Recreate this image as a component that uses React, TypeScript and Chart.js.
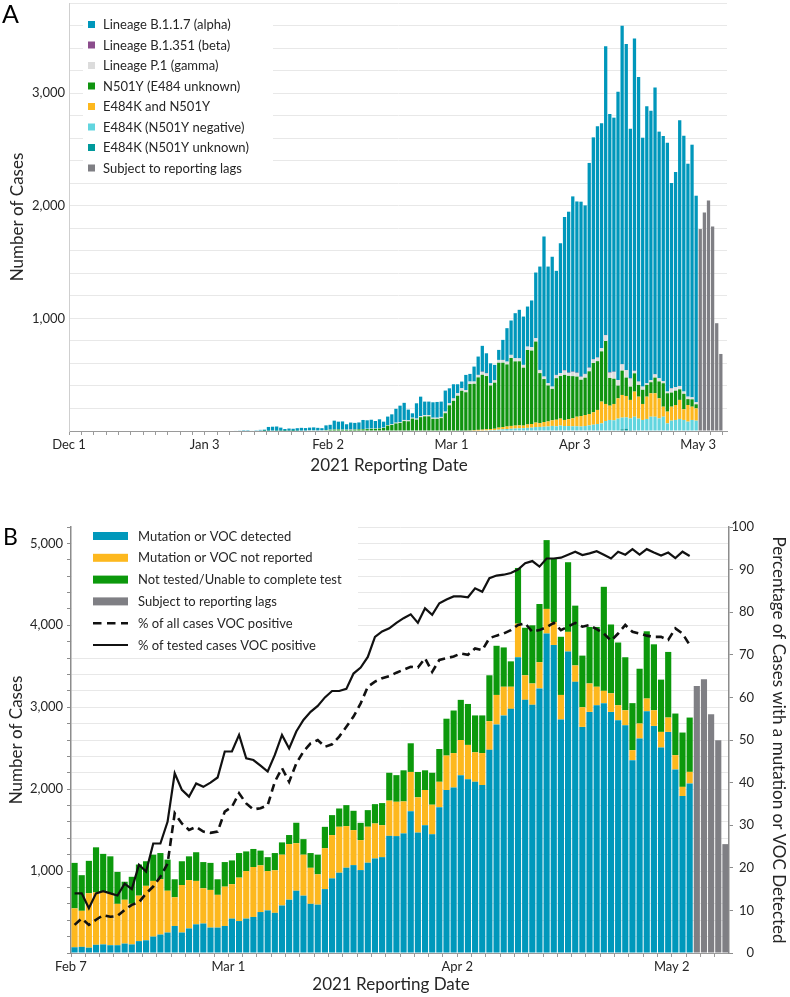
import React, { useEffect, useRef } from 'react';
import { Chart, registerables } from 'chart.js';

Chart.register(...registerables);

const FONT = 'Lato, "Open Sans", "Noto Sans", sans-serif';
const INK = '#262626';
const GRID = '#e8e8e8';
const AXIS = '#9a9a9a';

const MONTHS = ['Jan', 'Feb', 'Mar', 'Apr', 'May', 'Jun', 'Jul', 'Aug', 'Sep', 'Oct', 'Nov', 'Dec'];
function dayLabels(y: number, m: number, d: number, count: number): string[] {
  const out: string[] = [];
  for (let i = 0; i < count; i++) {
    const dt = new Date(Date.UTC(y, m, d + i));
    out.push(`${MONTHS[dt.getUTCMonth()]} ${dt.getUTCDate()}`);
  }
  return out;
}

// ---------------- Panel A ----------------
const A_CATEGORIES = dayLabels(2020, 11, 1, 160); // Dec 1 .. May 9
const A_TICK_TEXT = ['Dec 1', 'Jan 3', 'Feb 2', 'Mar 1', 'Apr 3', 'May 3'];
const A_TICK_AT = ['Dec 1', 'Jan 3', 'Feb 2', 'Mar 4', 'Apr 3', 'May 3'];
const A_DATA_START = 'Jan 10';
const A_LAGS_START = 'May 3';
const A_X_TITLE = '2021 Reporting Date';
const A_Y_TITLE = 'Number of Cases';

const A_ALPHA = [
  4, 3, 8, 8, 5, 7, 10,
  10, 33, 34, 37, 27, 16, 19, 18, 22, 24,
  22, 24, 26, 23, 19, 42, 43, 78, 68, 72,
  48, 60, 58, 60, 80, 75, 78, 67, 79, 53,
  75, 88, 123, 145, 152, 95, 39, 136, 172, 119,
  119, 137, 140, 136, 187, 133, 125, 80, 60, 134,
  68, 133, 163, 229, 177, 177, 134, 89, 178, 297,
  305, 400, 430, 429, 356, 415, 583, 918, 1244, 1036,
  1153, 924, 1155, 1358, 1429, 1556, 1520, 1553, 1496, 1817,
  1970, 2053, 1997, 2563, 2294, 2255, 2560, 3004, 2895, 2216,
  2949, 2705, 2210, 2459, 2391, 2545, 2190, 2175, 2210, 1823,
  1911, 2358, 2272, 2068, 2243, 1834,
];
const A_BETA = [
  0, 0, 0, 0, 0, 0, 0, 0, 0, 0,
  0, 0, 0, 0, 0, 0, 0, 0, 0, 0,
  0, 0, 0, 0, 0, 0, 0, 0, 3, 0,
  0, 0, 0, 0, 0, 0, 0, 0, 0, 0,
  0, 0, 0, 0, 0, 0, 0, 0, 0, 0,
  0, 0, 0, 2, 0, 0, 0, 0, 0, 0,
  3, 3, 0, 4, 0, 0, 0, 0, 0, 2,
  0, 0, 0, 0, 3, 0, 0, 0, 4, 0,
  6, 4, 5, 5, 3, 4, 3, 3, 2, 0,
  4, 5, 3, 0, 2, 3, 4, 3, 2, 0,
  0, 2, 2, 0, 0, 0, 3, 0, 0, 0,
  0, 0, 0,
];
const A_GAMMA = [
  0, 0, 0, 0, 0, 0, 0, 0, 0, 0, 0, 0, 0, 0, 0, 0, 0, 0,
  1, 1, 1, 1, 1, 2, 2, 2, 2, 2,
  2, 2, 2, 3, 3, 3, 3, 3, 3, 5,
  6, 7, 8, 10, 9, 8, 9, 10, 12, 12,
  10, 10, 11, 14, 18, 20, 22, 22, 20, 22,
  20, 22, 25, 22, 20, 20, 25, 25, 25, 28,
  28, 25, 25, 30, 30, 30, 25, 22, 20, 20,
  25, 25, 38, 25, 35, 30, 25, 30, 30, 30,
  30, 28, 50, 45, 60, 50, 55, 65, 70, 20,
  28, 28, 15, 18, 28, 28, 20, 15, 35, 30,
  30, 20, 22, 18, 18,
];
const A_N501Y = [
  0, 0, 0, 0, 0, 0, 0,
  2, 3, 4, 3, 3, 2, 3, 2, 3, 4,
  4, 5, 5, 4, 5, 7, 10, 12, 13, 11,
  10, 10, 12, 14, 15, 17, 19, 19, 22, 27,
  48, 54, 67, 72, 88, 86, 110, 101, 123, 130,
  130, 108, 108, 114, 158, 228, 268, 313, 354, 340,
  412, 411, 466, 487, 473, 386, 409, 576, 571, 551,
  603, 570, 569, 514, 661, 652, 719, 444, 381, 319,
  279, 369, 378, 400, 384, 374, 356, 322, 331, 379,
  438, 433, 446, 559, 246, 224, 113, 216, 163, 118,
  162, 104, 126, 104, 98, 139, 150, 208, 163, 125,
  127, 94, 137, 52, 65, 36,
];
const A_E484K_N501Y = [
  0, 0, 0, 0, 0, 0, 0, 0, 0, 0, 0, 0, 0, 0, 0, 0, 0, 0, 0, 0,
  0, 0, 0, 0, 0, 0, 0, 0, 0, 0, 0, 0, 0, 0, 0, 0, 0, 0, 0, 0,
  0, 0, 0, 0, 0, 0, 0, 0, 0, 0, 0, 0, 0, 0, 0,
  2, 2, 3, 5, 6, 7, 9, 10, 12, 18,
  20, 22, 25, 26, 26, 23, 30, 32, 40, 34,
  42, 45, 50, 58, 62, 54, 61, 71, 85, 93,
  98, 101, 110, 125, 193, 151, 127, 145, 180, 201,
  190, 164, 223, 195, 142, 198, 208, 208, 178, 89,
  104, 124, 133, 169, 95, 148, 118, 109,
];
const A_E484K_NEG = [
  0, 0, 0, 0, 0, 0, 0, 0, 0, 0, 0, 0, 0, 0, 0, 0, 0, 0, 0, 0,
  0, 0, 0, 0, 0, 0, 0, 0, 0, 0, 0, 0, 0, 0, 0, 0, 0, 0, 0, 0,
  0, 0, 0, 0, 0, 0, 0, 0, 0, 0, 0, 0, 0, 0, 0,
  1, 2, 2, 3, 4, 5, 6, 8, 8, 12,
  15, 18, 20, 22, 24, 25, 28, 30, 35, 36,
  38, 40, 45, 42, 48, 44, 44, 42, 42, 40,
  44, 50, 56, 62, 68, 89, 98, 95, 110, 104,
  101, 104, 122, 110, 98, 107, 127, 127, 112, 127,
  68, 92, 98, 107, 98, 83, 98, 92,
];
const A_E484K_UNK = [
  0, 0, 0, 0, 0, 0, 0, 0, 0, 0, 0, 0, 0, 0, 0, 0, 0, 0, 0, 0,
  0, 0, 0, 0, 0, 0, 0, 0, 0, 0, 0, 0, 0, 0, 0, 0, 0, 0, 0, 0,
  0, 0, 0, 0, 0, 0, 0, 0, 0, 0, 0, 0, 0, 0, 0, 0, 0, 0, 0, 0,
  0, 0, 0, 0, 0, 0, 0, 0, 0, 0, 0, 0, 0, 0, 0, 0, 0, 0, 0, 0,
  0, 0, 0, 0, 0, 0, 0, 0, 0, 0, 0, 0, 0, 0,
  15, 20, 8, 5,
  0, 0, 0, 0, 0, 0, 0, 0, 0, 0, 0, 0, 0, 0, 0,
];
const A_LAGS = [1793, 1941, 2047, 1816, 957, 684];

// ---------------- Panel B ----------------
const B_CATEGORIES = dayLabels(2021, 1, 7, 92); // Feb 7 .. May 9
const B_TICK_TEXT = ['Feb 7', 'Mar 1', 'Apr 2', 'May 2'];
const B_TICK_AT = ['Feb 7', 'Mar 1', 'Apr 2', 'May 2'];
const B_DATA_START = 'Feb 7';
const B_LAGS_START = 'May 5';
const B_X_TITLE = '2021 Reporting Date';
const B_Y_TITLE = 'Number of Cases';
const B_Y1_TITLE = 'Percentage of Cases with a mutation or VOC Detected';

const B_DETECTED = [
  70, 75, 65, 100, 105, 95, 95, 115, 105, 145,
  155, 200, 225, 250, 330, 250, 300, 350, 360, 310,
  310, 330, 420, 390, 420, 440, 500, 520, 490, 580,
  650, 760, 700, 600, 590, 780, 911, 980, 1041, 1073,
  1012, 1102, 1154, 1170, 1430, 1427, 1460, 1730, 1470, 1560,
  1450, 1780, 1990, 2020, 2170, 2120, 2090, 2050, 2480, 2790,
  2900, 2980, 3610, 3090, 3030, 3230, 3900, 3760, 2850, 3680,
  3310, 2760, 2943, 3024, 3050, 2943, 2841, 2780, 2354, 2618,
  2951, 2772, 2508, 2699, 2240, 1915, 2069,
];
const B_NOT_REPORTED = [
  475, 440, 665, 640, 645, 635, 505, 535, 495, 555,
  665, 680, 675, 510, 350, 580, 590, 530, 430, 460,
  400, 480, 420, 530, 580, 610, 570, 480, 520, 620,
  680, 580, 500, 440, 370, 500, 528, 561, 508, 427,
  366, 439, 427, 390, 430, 419, 390, 480, 430, 430,
  360, 310, 420, 420, 430, 420, 360, 390, 350, 360,
  350, 270, 410, 300, 260, 320, 300, 280, 300, 240,
  200, 240, 347, 226, 150, 227, 183, 183, 122, 183,
  155, 191, 191, 175, 175, 113, 142,
];
const B_NOT_TESTED = [
  555, 435, 395, 550, 460, 450, 390, 220, 330, 380,
  300, 320, 320, 380, 220, 290, 290, 350, 320, 330,
  190, 300, 290, 300, 240, 220, 180, 170, 210, 150,
  110, 250, 190, 180, 240, 260, 244, 223, 256, 236,
  211, 203, 236, 270, 340, 325, 380, 350, 310, 240,
  390, 400, 450, 520, 490, 500, 450, 460, 560, 600,
  480, 310, 680, 580, 710, 710, 840, 770, 710, 850,
  730, 630, 690, 730, 1270, 840, 766, 647, 574, 669,
  821, 805, 638, 801, 508, 663, 663,
];
const B_LAGS = [3260, 3341, 2915, 2598, 1329];
const B_PCT_ALL = [
  6.6, 8.1, 6.6, 7.8, 8.9, 8.5, 8.7, 10.1, 11.3, 11.9,
  14, 15.6, 17.9, 21, 32.8, 30.4, 28.9, 29.6, 28.5, 28.2,
  28.5, 33.2, 34.3, 37.5, 35.1, 33.7, 34, 34.7, 40.2, 43.4,
  40.2, 44.5, 47.3, 49.2, 50, 48.4, 49, 50.8, 53.1, 55.5,
  58.6, 62.5, 63.7, 64.5, 65, 65.8, 66.5, 67.2, 67, 69.2,
  66, 68.8, 69.2, 69.6, 70.3, 70, 71.5, 71.1, 73.9, 74.5,
  75, 75.8, 77, 77.4, 75.4, 75.8, 76.5, 77.5, 75.8, 76.6,
  77.5, 76.6, 77, 76, 75, 73.3, 75, 77, 75.4, 75,
  74.5, 74.2, 74.2, 73.5, 76.2, 75, 72.3,
];
const B_PCT_TESTED = [
  14, 14, 10.5, 14, 14.5, 14, 13.5, 16.3, 15, 20.7,
  19.1, 25.7, 25.7, 30.8, 42.2, 38.3, 36.7, 39.8, 39, 40,
  41.2, 47.3, 47.3, 51.2, 45.7, 45.3, 44, 42.6, 46.5, 51.2,
  48, 52, 54.7, 56.6, 58, 60, 61.5, 61.5, 62, 65.6,
  67, 69.5, 74.2, 75.5, 76.2, 77.5, 78.6, 79.5, 77.5, 80.9,
  79.4, 82.1, 83, 83.7, 83.7, 83.5, 85.6, 84.8, 88, 88.6,
  88.8, 89.2, 90, 91.5, 92, 90.7, 92.6, 92.6, 92.8, 93.5,
  94.2, 93.4, 93.8, 94.3, 93.5, 92.6, 94.2, 93.5, 94.8, 93.5,
  94.8, 94, 93.3, 94, 92.7, 94.2, 93.2,
];

// ---------------- helpers ----------------
function place(labels: string[], start: string, values: number[]): (number | null)[] {
  const i0 = labels.indexOf(start);
  return labels.map((_, i) => (i >= i0 && i < i0 + values.length ? values[i - i0] : null));
}
function tickText(labels: string[], at: string[], text: string[]) {
  return (_v: any, idx: number) => {
    const j = at.indexOf(labels[idx]);
    return j >= 0 ? text[j] : '';
  };
}
const thousands = (v: any) => (v > 0 && v % 1000 === 0 ? Number(v).toLocaleString('en-US') : '');

function drawText(ctx: any, text: string, x: number, y: number, size: number, align = 'center') {
  ctx.save();
  ctx.font = `${size}px ${FONT}`;
  ctx.fillStyle = INK;
  ctx.textAlign = align;
  ctx.textBaseline = 'middle';
  ctx.fillText(text, x, y);
  ctx.restore();
}

// ---------------- configs ----------------
function configA(): any {
  const L = A_CATEGORIES;
  const bar = (label: string, data: (number | null)[], color: string) => ({
    type: 'bar', label, data, backgroundColor: color, borderWidth: 0,
    barPercentage: 0.8, categoryPercentage: 1, stack: 'a',
  });
  const datasets = [
    bar('E484K (N501Y unknown)', place(L, A_DATA_START, A_E484K_UNK), '#00999b'),
    bar('E484K (N501Y negative)', place(L, A_DATA_START, A_E484K_NEG), '#62d5df'),
    bar('E484K and N501Y', place(L, A_DATA_START, A_E484K_N501Y), '#fdb81e'),
    bar('N501Y (E484 unknown)', place(L, A_DATA_START, A_N501Y), '#109410'),
    bar('Lineage P.1 (gamma)', place(L, A_DATA_START, A_GAMMA), '#dcdcdc'),
    bar('Lineage B.1.351 (beta)', place(L, A_DATA_START, A_BETA), '#8b4d8c'),
    bar('Lineage B.1.1.7 (alpha)', place(L, A_DATA_START, A_ALPHA), '#0097bb'),
    bar('Subject to reporting lags', place(L, A_LAGS_START, A_LAGS), '#7f7f84'),
  ];
  const legendPlugin = {
    id: 'legendA',
    beforeDatasetsDraw(chart: any) {
      const { ctx, chartArea: ca } = chart;
      const ds = chart.data.datasets;
      const items = [...ds.slice(0, 7).reverse(), ds[7]];
      ctx.save();
      ctx.fillStyle = '#ffffff';
      ctx.fillRect(ca.left + 14, ca.top + 9, 190, 168);
      ctx.font = `13px ${FONT}`;
      ctx.textBaseline = 'middle';
      ctx.textAlign = 'left';
      items.forEach((d: any, i: number) => {
        const y = ca.top + 21.5 + 20.5 * i;
        ctx.fillStyle = d.backgroundColor;
        ctx.fillRect(ca.left + 19, y - 3.5, 7, 7);
        ctx.fillStyle = INK;
        ctx.fillText(d.label, ca.left + 34, y + 0.5);
      });
      ctx.restore();
    },
    afterDraw(chart: any) {
      const ctx = chart.ctx;
      const ca = chart.chartArea;
      drawText(ctx, A_X_TITLE, (ca.left + ca.right) / 2 - 9, 466, 17);
      ctx.save();
      ctx.font = `25px ${FONT}`;
      ctx.fillStyle = '#000';
      ctx.textBaseline = 'alphabetic';
      ctx.textAlign = 'left';
      ctx.fillText('A', 2, 23);
      ctx.restore();
    },
  };
  return {
    type: 'bar',
    data: { labels: L, datasets },
    plugins: [legendPlugin],
    options: {
      responsive: false,
      animation: false,
      devicePixelRatio: 1,
      layout: { padding: { left: 0, right: 63, top: 3, bottom: 3 } },
      plugins: { legend: { display: false }, tooltip: { enabled: false } },
      scales: {
        x: {
          type: 'category', offset: true, stacked: true,
          grid: {
            offset: true, drawOnChartArea: false, drawTicks: true, tickLength: 4,
            tickColor: (c: any) => (c.index % 3 === 0 ? AXIS : 'rgba(0,0,0,0)'),
          },
          border: { display: true, color: AXIS, width: 1 },
          ticks: {
            autoSkip: false, maxRotation: 0, minRotation: 0, labelOffset: -2.06, padding: 2,
            color: INK, font: { size: 13, family: FONT },
            callback: tickText(L, A_TICK_AT, A_TICK_TEXT),
          },
          afterFit: (s: any) => { s.height = 46; s.paddingLeft = 0; s.paddingRight = 0; },
        },
        y: {
          stacked: true, min: 0, max: 3800,
          grid: { color: (c: any) => (c.tick && c.tick.value === 0 ? 'rgba(0,0,0,0)' : GRID), drawTicks: false, lineWidth: 1 },
          border: { display: true, color: '#cfcfcf', width: 1 },
          ticks: { stepSize: 200, autoSkip: false, padding: 4, color: INK, font: { size: 13, family: FONT }, callback: thousands },
          title: { display: true, text: A_Y_TITLE, color: INK, font: { size: 17, family: FONT }, padding: { top: 7, bottom: 0 } },
          afterFit: (s: any) => { s.width = 69; s.paddingTop = 0; s.paddingBottom = 0; },
        },
      },
    },
  };
}

function configB(): any {
  const L = B_CATEGORIES;
  const bar = (label: string, data: (number | null)[], color: string) => ({
    type: 'bar', label, data, backgroundColor: color, borderWidth: 0,
    barPercentage: 0.86, categoryPercentage: 1, stack: 'b', yAxisID: 'y', order: 1,
  });
  const datasets = [
    bar('Mutation or VOC detected', place(L, B_DATA_START, B_DETECTED), '#0098bb'),
    bar('Mutation or VOC not reported', place(L, B_DATA_START, B_NOT_REPORTED), '#fdb81e'),
    bar('Not tested/Unable to complete test', place(L, B_DATA_START, B_NOT_TESTED), '#0c990c'),
    bar('Subject to reporting lags', place(L, B_LAGS_START, B_LAGS), '#7f7f84'),
    {
      type: 'line', label: '% of all cases VOC positive', data: place(L, B_DATA_START, B_PCT_ALL),
      yAxisID: 'y1', borderColor: '#111', backgroundColor: '#111', borderWidth: 2.6,
      borderDash: [8, 5], pointRadius: 0, tension: 0, fill: false, order: 0,
    },
    {
      type: 'line', label: '% of tested cases VOC positive', data: place(L, B_DATA_START, B_PCT_TESTED),
      yAxisID: 'y1', borderColor: '#111', backgroundColor: '#111', borderWidth: 2.2,
      pointRadius: 0, tension: 0, fill: false, order: 0,
    },
  ];
  const legendPlugin = {
    id: 'legendB',
    beforeDatasetsDraw(chart: any) {
      const { ctx, chartArea: ca } = chart;
      const ds = chart.data.datasets;
      ctx.save();
      ctx.fillStyle = '#ffffff';
      ctx.fillRect(ca.left + 1, ca.top, 286, 125);
      ctx.font = `13px ${FONT}`;
      ctx.textBaseline = 'middle';
      ctx.textAlign = 'left';
      ds.forEach((d: any, i: number) => {
        const y = ca.top + 9 + 21.8 * i;
        const x0 = ca.left + 22;
        if (d.type === 'line') {
          ctx.strokeStyle = d.borderColor;
          ctx.lineWidth = d.borderWidth;
          ctx.setLineDash(d.borderDash ? [8.5, 5.5] : []);
          ctx.beginPath();
          ctx.moveTo(x0, y);
          ctx.lineTo(x0 + 35, y);
          ctx.stroke();
          ctx.setLineDash([]);
        } else {
          ctx.fillStyle = d.backgroundColor;
          ctx.fillRect(x0, y - 4, 35, 8);
        }
        ctx.fillStyle = INK;
        ctx.fillText(d.label, ca.left + 67, y + 0.5);
      });
      ctx.restore();
    },
    afterDraw(chart: any) {
      const ctx = chart.ctx;
      const ca = chart.chartArea;
      drawText(ctx, B_X_TITLE, (ca.left + ca.right) / 2 - 9, 495, 17);
      ctx.save();
      ctx.font = `23px ${FONT}`;
      ctx.fillStyle = '#000';
      ctx.textBaseline = 'alphabetic';
      ctx.textAlign = 'left';
      ctx.fillText('B', 3, 55);
      ctx.restore();
    },
  };
  return {
    type: 'bar',
    data: { labels: L, datasets },
    plugins: [legendPlugin],
    options: {
      responsive: false,
      animation: false,
      devicePixelRatio: 1,
      layout: { padding: { left: 0, right: 36, top: 37, bottom: 0 } },
      plugins: { legend: { display: false }, tooltip: { enabled: false } },
      scales: {
        x: {
          type: 'category', offset: true, stacked: true,
          grid: {
            offset: true, drawOnChartArea: false, drawTicks: true, tickLength: 4,
            tickColor: (c: any) => (c.index % 2 === 0 ? AXIS : 'rgba(0,0,0,0)'),
          },
          border: { display: true, color: AXIS, width: 1 },
          ticks: {
            autoSkip: false, maxRotation: 0, minRotation: 0, labelOffset: -3.58, padding: 2,
            color: INK, font: { size: 13, family: FONT },
            callback: tickText(L, B_TICK_AT, B_TICK_TEXT),
          },
          afterFit: (s: any) => { s.height = 44; s.paddingLeft = 0; s.paddingRight = 0; },
        },
        y: {
          position: 'left', stacked: true, min: 0, max: 5200,
          grid: {
            color: (c: any) => (c.tick && c.tick.value === 0 ? 'rgba(0,0,0,0)' : GRID),
            drawTicks: true, tickLength: 4, tickColor: '#8c8c8c', lineWidth: 1,
          },
          border: { display: true, color: '#8c8c8c', width: 1.5 },
          ticks: { stepSize: 200, autoSkip: false, padding: 4, color: INK, font: { size: 13, family: FONT }, callback: thousands },
          title: { display: true, text: B_Y_TITLE, color: INK, font: { size: 17, family: FONT }, padding: { top: 6, bottom: 0 } },
          afterFit: (s: any) => { s.width = 71; s.paddingTop = 0; s.paddingBottom = 0; },
        },
        y1: {
          position: 'right', min: 0, max: 100,
          grid: { drawOnChartArea: false, drawTicks: true, tickLength: 4, tickColor: '#8c8c8c' },
          border: { display: true, color: '#8c8c8c', width: 1.5 },
          ticks: { stepSize: 10, autoSkip: false, padding: 0, crossAlign: 'far', color: INK, font: { size: 13, family: FONT } },
          title: { display: true, text: B_Y1_TITLE, color: INK, font: { size: 17, family: FONT }, padding: { top: -35, bottom: 0 } },
          afterFit: (s: any) => { s.width = 25; s.paddingTop = 0; s.paddingBottom = 0; },
        },
      },
    },
  };
}

function ChartCanvas({ make, top, height }: { make: () => any; top: number; height: number }) {
  const ref = useRef<HTMLCanvasElement | null>(null);
  useEffect(() => {
    if (!ref.current) return;
    const chart = new Chart(ref.current, make());
    return () => chart.destroy();
  }, [make]);
  return (
    <canvas
      ref={ref}
      width={790}
      height={height}
      style={{ position: 'absolute', left: 0, top, width: 790, height, display: 'block' }}
    />
  );
}

export default function App() {
  return (
    <div style={{ position: 'absolute', left: 0, top: 0, width: 790, height: 997, background: '#fff', fontFamily: FONT }}>
      <ChartCanvas make={configA} top={0} height={480} />
      <ChartCanvas make={configB} top={490} height={507} />
    </div>
  );
}
